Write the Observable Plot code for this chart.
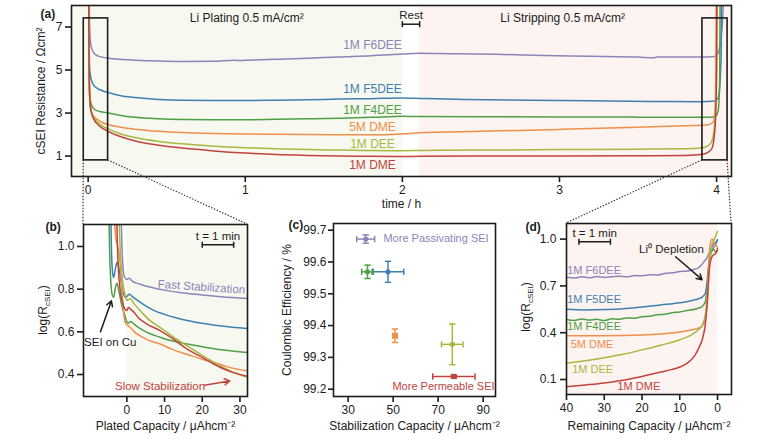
<!DOCTYPE html>
<html>
<head>
<meta charset="utf-8">
<script src="https://cdn.jsdelivr.net/npm/d3@7"></script>
<script src="https://cdn.jsdelivr.net/npm/@observablehq/plot@0.6"></script>
<style>
  body { margin: 0; background: #fff; }
  #fig { position: relative; width: 780px; height: 439px; overflow: hidden; background: #fff; }
</style>
</head>
<body>
<div id="fig"></div>
<script>
// ---------- shared ----------
const seriesNames = ["1M F6DEE", "1M F5DEE", "1M F4DEE", "5M DME", "1M DEE", "1M DME"];
const seriesColors = ["#8d84ba", "#3f80b1", "#4f9f47", "#ef8f4b", "#a8b83f", "#c1433f"];

// ---------- (a) cSEI resistance (Ω cm²) vs time (h) ----------
const f6deeA = [[0.002,12],[0.008,7.4],[0.015,6.3],[0.025,5.95],[0.04,5.76],[0.06,5.66],[0.09,5.6],[0.13,5.55],[0.2,5.5],[0.3,5.46],[0.45,5.42],[0.6,5.4],[0.8,5.41],[0.93,5.46],[0.95,5.44],[1.0,5.45],[1.2,5.5],[1.4,5.55],[1.6,5.61],[1.8,5.66],[2.0,5.74],[2.11,5.78],[2.3,5.76],[2.6,5.73],[2.9,5.68],[3.2,5.64],[3.5,5.6],[3.6,5.57],[3.62,5.6],[3.75,5.6],[3.9,5.6],[3.99,5.63],[4.01,5.8],[4.03,6.6],[4.045,8.5],[4.05,12]];
const f5deeA = [[0.002,12],[0.006,6.5],[0.01,5.0],[0.02,4.55],[0.035,4.3],[0.06,4.14],[0.09,4.04],[0.13,3.95],[0.2,3.82],[0.3,3.72],[0.45,3.63],[0.6,3.59],[0.8,3.58],[1.0,3.58],[1.2,3.6],[1.4,3.62],[1.6,3.65],[1.8,3.67],[2.0,3.7],[2.11,3.68],[2.4,3.63],[2.8,3.6],[3.2,3.57],[3.6,3.54],[3.9,3.53],[3.99,3.56],[4.01,3.7],[4.02,4.2],[4.03,6],[4.035,12]];
const f4deeA = [[0.002,12],[0.006,6],[0.01,4.0],[0.015,3.55],[0.025,3.32],[0.04,3.18],[0.06,3.1],[0.09,3.05],[0.13,3.0],[0.2,2.9],[0.3,2.8],[0.45,2.73],[0.6,2.7],[0.8,2.69],[1.0,2.69],[1.2,2.71],[1.4,2.73],[1.6,2.76],[1.8,2.8],[2.0,2.85],[2.11,2.84],[2.5,2.83],[3.0,2.82],[3.5,2.81],[3.9,2.8],[3.99,2.82],[4.01,3.1],[4.02,4.5],[4.025,12]];
const dme5A = [[0.002,12],[0.005,6],[0.008,4.0],[0.012,3.4],[0.02,3.05],[0.035,2.85],[0.06,2.7],[0.09,2.56],[0.13,2.46],[0.2,2.35],[0.3,2.25],[0.45,2.15],[0.6,2.09],[0.8,2.05],[1.0,2.03],[1.2,2.01],[1.4,2.0],[1.6,1.99],[1.8,1.99],[2.0,2.03],[2.11,2.08],[2.5,2.15],[3.0,2.24],[3.5,2.34],[3.8,2.41],[3.95,2.46],[3.98,2.6],[3.99,3.2],[3.995,5],[4.0,12]];
const deeA = [[0.002,12],[0.005,6],[0.008,4.2],[0.012,3.5],[0.02,3.1],[0.035,2.8],[0.06,2.58],[0.09,2.4],[0.13,2.25],[0.2,2.05],[0.3,1.86],[0.45,1.68],[0.6,1.57],[0.8,1.46],[1.0,1.39],[1.2,1.34],[1.4,1.3],[1.6,1.28],[1.8,1.26],[2.0,1.25],[2.11,1.26],[2.5,1.28],[3.0,1.3],[3.5,1.32],[3.8,1.34],[3.9,1.37],[3.95,1.5],[3.97,1.7],[3.985,2.3],[3.995,3.5],[4.0,5],[4.005,12]];
const dme1A = [[0.002,12],[0.005,6],[0.008,4.2],[0.012,3.5],[0.02,3.05],[0.035,2.72],[0.06,2.48],[0.09,2.3],[0.13,2.14],[0.2,1.92],[0.3,1.7],[0.45,1.5],[0.6,1.37],[0.8,1.24],[1.0,1.14],[1.2,1.07],[1.4,1.03],[1.6,1.0],[1.8,0.99],[2.0,0.98],[2.11,0.99],[2.5,1.0],[3.0,1.0],[3.5,1.01],[3.8,1.03],[3.9,1.07],[3.95,1.2],[3.97,1.35],[3.985,1.9],[3.995,3],[4.0,5],[4.005,12]];
const curvesA = [f6deeA, f5deeA, f4deeA, dme5A, deeA, dme1A];
const ticksTimeA = [0, 1, 2, 3, 4];
const ticksResA = [1, 3, 5, 7];
const platingSpan = [-0.106, 2.0];
const restSpan = [2.0, 2.11];
const strippingSpan = [2.11, 4.095];
const zoomPlating = [-0.028, 0.127];
const zoomStripping = [3.91, 4.07];
const zoomRes = [0.8, 7.4];
const labelResA = [6.15, 4.13, 3.15, 2.33, 1.56, 0.58];

// ---------- (b) log(R) vs plated capacity (µAh cm⁻²) ----------
const f6deeB = [[-1.6,1.2],[-1.3,1.0],[-1.0,0.9],[-0.6,0.856],[0,0.846],[0.6,0.851],[1.5,0.836],[3,0.826],[5,0.815],[8,0.802],[11,0.792],[15,0.782],[20,0.773],[25,0.765],[32,0.756]];
const f5deeB = [[-4.3,1.2],[-4.1,1.0],[-3.8,0.88],[-3.5,0.855],[-3.0,0.9],[-2.5,0.928],[-2.0,0.89],[-1.2,0.8],[-0.4,0.76],[0.2,0.77],[0.7,0.776],[1.5,0.765],[3,0.745],[5,0.722],[7,0.702],[10,0.682],[13,0.666],[16,0.653],[20,0.64],[25,0.627],[32,0.615]];
const f4deeB = [[-4.8,1.2],[-4.6,1.0],[-4.3,0.85],[-3.9,0.775],[-3.5,0.762],[-3.0,0.81],[-2.6,0.828],[-2.1,0.79],[-1.3,0.72],[-0.5,0.675],[0,0.646],[0.5,0.641],[1.0,0.648],[2,0.635],[4,0.61],[6,0.592],[8.8,0.575],[12,0.558],[16,0.543],[20,0.53],[25,0.516],[32,0.503]];
const dme5B = [[-3.5,1.2],[-3.0,1.05],[-2.0,0.96],[-1.5,0.85],[-1.0,0.72],[-0.5,0.646],[0,0.634],[0.9,0.62],[2,0.6],[4,0.576],[6,0.559],[8.8,0.543],[12,0.518],[15.9,0.495],[20,0.471],[24.7,0.448],[28,0.43],[32,0.417]];
const deeB = [[-2.2,1.2],[-1.8,1.0],[-1.2,0.85],[-0.5,0.775],[0,0.748],[0.5,0.752],[0.9,0.755],[2,0.73],[4,0.69],[6,0.655],[8.8,0.621],[12,0.58],[15.9,0.535],[20,0.49],[24.7,0.441],[28,0.412],[32,0.388]];
const dme1B = [[-2.8,1.2],[-2.4,0.95],[-1.8,0.8],[-1.0,0.73],[-0.5,0.706],[0,0.7],[0.4,0.714],[1.0,0.706],[2,0.69],[3,0.667],[5,0.64],[8.8,0.606],[12,0.57],[15.9,0.52],[20,0.48],[24.7,0.434],[28,0.41],[32,0.392]];
const curvesB = [f6deeB, f5deeB, f4deeB, dme5B, deeB, dme1B];
const ticksCapB = [0, 10, 20, 30];
const ticksLogB = [0.4, 0.6, 0.8, 1.0];
const oneMinute = 8.33; // µAh cm⁻² passed in one minute at 0.5 mA cm⁻²

// ---------- (c) Coulombic efficiency vs stabilization capacity ----------
const stabCapacity = [37.8, 47.7, 38.6, 50.8, 76.3, 77.0];
const stabCapacityErr = [4.0, 7.0, 2.6, 1.0, 4.8, 9.4];
const coulombicEff = [99.672, 99.569, 99.569, 99.368, 99.341, 99.240];
const coulombicEffErr = [0.013, 0.033, 0.021, 0.021, 0.064, 0.004];
const markerShape = ["circle", "circle", "circle", "square", "circle", "square"];
const ticksCapC = [30, 50, 70, 90];
const ticksCeC = [99.2, 99.3, 99.4, 99.5, 99.6, 99.7];

// ---------- (d) log(R) vs remaining capacity (µAh cm⁻²) ----------
const f6deeD = [[40,0.755],[38,0.75],[36,0.758],[34,0.752],[32,0.76],[30,0.754],[28,0.758],[26,0.762],[24,0.758],[22,0.766],[20,0.765],[18,0.772],[16,0.77],[14,0.78],[12,0.784],[10,0.792],[8,0.795],[6.5,0.805],[5.3,0.812],[4.2,0.835],[3.5,0.858],[2.8,0.88],[2.0,0.92],[1.2,0.94],[0.5,0.965],[0,0.995]];
const f5deeD = [[40,0.55],[35,0.546],[30,0.548],[25,0.553],[20,0.565],[15,0.578],[10,0.592],[7,0.605],[5,0.618],[4,0.63],[3.2,0.655],[2.8,0.72],[2.4,0.82],[2.0,0.9],[1.3,0.96],[0.6,0.975],[0,0.995]];
const f4deeD = [[40,0.485],[38,0.478],[36,0.488],[34,0.481],[32,0.486],[30,0.478],[28,0.489],[26,0.486],[24,0.495],[22,0.493],[20,0.503],[18,0.505],[16,0.515],[14,0.518],[12,0.528],[10,0.533],[8,0.543],[6,0.55],[5,0.558],[4,0.57],[3.2,0.6],[2.7,0.7],[2.2,0.85],[1.6,0.92],[1.0,0.935],[0.5,0.915],[0,0.925]];
const dme5D = [[40,0.38],[30,0.38],[20,0.385],[15,0.392],[10,0.405],[7,0.418],[5,0.43],[4,0.447],[3.3,0.48],[2.8,0.6],[2.4,0.8],[2.0,0.96],[1.4,1.0],[0.8,0.97],[0,0.95]];
const deeD = [[40,0.205],[35,0.22],[30,0.24],[25,0.262],[20,0.29],[15,0.32],[10,0.355],[7,0.385],[5,0.42],[4,0.45],[3.2,0.52],[2.7,0.62],[2.2,0.8],[1.6,0.95],[1.0,0.99],[0.5,1.02],[0,1.05]];
const dme1D = [[40,0.053],[35,0.065],[30,0.078],[25,0.095],[20,0.12],[15,0.148],[12,0.165],[10,0.18],[8,0.205],[6,0.255],[5,0.3],[4,0.36],[3.2,0.46],[2.7,0.6],[2.2,0.8],[1.6,0.88],[1.0,0.9],[0.4,0.91],[0,0.94]];
const curvesD = [f6deeD, f5deeD, f4deeD, dme5D, deeD, dme1D];
const ticksCapD = [40, 30, 20, 10, 0];
const ticksLogD = [0.1, 0.4, 0.7, 1.0];
const labelCapD = [39.8, 39.8, 39.8, 38.9, 38.5, 26.5];
const labelLogD = [0.80, 0.613, 0.438, 0.327, 0.167, 0.053];

// ---------- styling helpers ----------
const FONT = "'Liberation Sans', Arial, Helvetica, sans-serif";
const INK = "#1c1c1c";
const PLATE_FILL = "#f7f8ef";
const STRIP_FILL = "#fdf3f0";
const style = {fontFamily: FONT, fontSize: "12px", color: INK, background: "transparent", overflow: "visible"};

// short line segments used as error-bar / scale-bar end caps
const capVertical = {draw(ctx, size) { const r = Math.sqrt(size / Math.PI); ctx.moveTo(0, -r); ctx.lineTo(0, r); }};
const capHorizontal = {draw(ctx, size) { const r = Math.sqrt(size / Math.PI); ctx.moveTo(-r, 0); ctx.lineTo(r, 0); }};

const frame = () => Plot.frame({stroke: INK, strokeWidth: 1.6});
const lines = (curves, opts = {}) => curves.map((pts, i) =>
  Plot.line(pts, {x: d => d[0], y: d => d[1], stroke: seriesColors[i], strokeWidth: 1.5, clip: true, curve: "monotone-x", ...opts}));
const panelTag = (tag, dx, dy) => Plot.text([tag], {frameAnchor: "top-left", dx, dy, text: d => d, fontWeight: "bold", fontSize: 12, fill: INK});
const scaleBar = (x1, x2, y, ty, label = "t = 1 min") => [
  Plot.ruleY([y], {x1, x2, stroke: INK, strokeWidth: 1.5}),
  Plot.dot([x1, x2], {x: d => d, y: () => y, symbol: capVertical, r: 3, fill: "none", stroke: INK, strokeWidth: 1.5}),
  Plot.text([label], {x: (x1 + x2) / 2, y: ty, text: d => d, fontSize: 11.5, fill: INK})
];

const fig = document.getElementById("fig");
function place(svg, left, top) {
  svg.style.position = "absolute";
  svg.style.left = left + "px";
  svg.style.top = top + "px";
  fig.appendChild(svg);
  return svg;
}
function logLabel(svg, cx, cy) {
  const t = d3.select(svg).append("text")
    .attr("transform", `translate(${cx},${cy}) rotate(-90)`)
    .attr("text-anchor", "middle")
    .attr("fill", INK)
    .style("font", `12px ${FONT}`);
  t.append("tspan").text("log(R");
  t.append("tspan").attr("dy", 3).attr("font-size", 8).text("cSEI");
  t.append("tspan").attr("dy", -3).text(")");
}

// ---------- panel (a) ----------
const plotA = Plot.plot({
  width: 780, height: 215,
  marginLeft: 71, marginRight: 49, marginTop: 5, marginBottom: 39,
  style,
  x: {domain: [platingSpan[0], strippingSpan[1]]},
  y: {domain: [0.05, 8.0]},
  marks: [
    Plot.rect([platingSpan], {x1: d => d[0], x2: d => d[1], fill: PLATE_FILL}),
    Plot.rect([strippingSpan], {x1: d => d[0], x2: d => d[1], fill: STRIP_FILL}),
    ...lines(curvesA),
    Plot.rect([zoomPlating, zoomStripping], {x1: d => d[0], x2: d => d[1], y1: zoomRes[0], y2: zoomRes[1], fill: "none", stroke: INK, strokeWidth: 1.6}),
    ...seriesNames.map((name, i) => Plot.text([name], {x: 1.81, y: labelResA[i], text: d => d, fill: seriesColors[i], fontSize: 12})),
    Plot.text(["Li Plating 0.5 mA/cm²"], {x: 1.01, y: 7.40, text: d => d, fontSize: 12, fill: INK}),
    Plot.text(["Li Stripping 0.5 mA/cm²"], {x: 3.02, y: 7.40, text: d => d, fontSize: 12, fill: INK}),
    ...scaleBar(restSpan[0], restSpan[1], 7.13, 7.55, "Rest"),
    Plot.axisX({ticks: ticksTimeA, tickFormat: d3.format("d"), tickSize: 6, tickPadding: 3, strokeWidth: 1.6, label: "time / h", labelAnchor: "center", labelOffset: 31, labelArrow: "none", fontSize: 12}),
    Plot.axisY({ticks: ticksResA, tickFormat: d3.format("d"), tickSize: 6, tickPadding: 3, strokeWidth: 1.6, label: "cSEI Resistance / Ωcm²", labelAnchor: "center", labelOffset: 35, labelArrow: "none", fontSize: 12}),
    frame(),
    panelTag("(a)", -31, 4)
  ]
});
place(plotA, 0, 0);

// ---------- panel (b) ----------
const plotB = Plot.plot({
  width: 260, height: 224,
  marginLeft: 83, marginRight: 13, marginTop: 9, marginBottom: 43,
  style,
  x: {domain: [-11.5, 32]},
  y: {domain: [0.297, 1.103]},
  marks: [
    Plot.rect([[0, 32]], {x1: d => d[0], x2: d => d[1], fill: PLATE_FILL}),
    ...lines(curvesB),
    Plot.text(["Fast Stabilization"], {x: 19.8, y: 0.81, text: d => d, fill: seriesColors[0], fontSize: 11.5, rotate: 4}),
    Plot.text(["Slow Stabilization"], {x: 8.8, y: 0.347, text: d => d, fill: seriesColors[5], fontSize: 11.5}),
    Plot.arrow([0], {x1: 20.5, y1: 0.35, x2: 27.3, y2: 0.37, stroke: seriesColors[5], strokeWidth: 1.5, headLength: 6}),
    Plot.text(["SEI on Cu"], {x: -4.4, y: 0.55, text: d => d, fill: INK, fontSize: 11.5}),
    Plot.arrow([0], {x1: -7.0, y1: 0.6, x2: -4.1, y2: 0.745, stroke: INK, strokeWidth: 1.5, headLength: 6}),
    ...scaleBar(20.0, 20.0 + oneMinute, 1.008, 1.047),
    Plot.axisX({ticks: ticksCapB, tickFormat: d3.format("d"), tickSize: 6, tickPadding: 3, strokeWidth: 1.6, label: "Plated Capacity / μAhcm⁻²", labelAnchor: "center", labelOffset: 33, labelArrow: "none", fontSize: 12}),
    Plot.axisY({ticks: ticksLogB, tickFormat: d3.format(".1f"), tickSize: 6, tickPadding: 3, strokeWidth: 1.6, label: null, fontSize: 12}),
    frame(),
    panelTag("(b)", -38, -2)
  ]
});
place(plotB, 0, 215);
logLabel(plotB, 47, 95);

// ---------- panel (c) ----------
const ceRows = seriesNames.map((name, i) => ({
  name, color: seriesColors[i], cap: stabCapacity[i], capErr: stabCapacityErr[i],
  ce: coulombicEff[i], ceErr: coulombicEffErr[i], shape: markerShape[i]
}));
const plotC = Plot.plot({
  width: 250, height: 224,
  marginLeft: 73, marginRight: 15, marginTop: 8, marginBottom: 43,
  style,
  x: {domain: [23.5, 95.5]},
  y: {domain: [99.177, 99.721]},
  marks: [
    ...ceRows.flatMap(r => [
      Plot.ruleY([r], {y: "ce", x1: d => d.cap - d.capErr, x2: d => d.cap + d.capErr, stroke: r.color, strokeWidth: 1.5}),
      Plot.ruleX([r], {x: "cap", y1: d => d.ce - d.ceErr, y2: d => d.ce + d.ceErr, stroke: r.color, strokeWidth: 1.5}),
      Plot.dot([r.cap - r.capErr, r.cap + r.capErr], {x: d => d, y: () => r.ce, symbol: capVertical, r: 3.2, fill: "none", stroke: r.color, strokeWidth: 1.5}),
      Plot.dot([r.ce - r.ceErr, r.ce + r.ceErr], {x: () => r.cap, y: d => d, symbol: capHorizontal, r: 3.2, fill: "none", stroke: r.color, strokeWidth: 1.5}),
      Plot.dot([r], {x: "cap", y: "ce", symbol: r.shape, r: r.shape === "square" ? 3 : 2.6, fill: r.color, stroke: "none"})
    ]),
    Plot.text(["More Passivating SEI"], {x: 45.7, y: 99.673, text: d => d, textAnchor: "start", fill: seriesColors[0], fontSize: 11}),
    Plot.text(["More Permeable SEI"], {x: 49.7, y: 99.207, text: d => d, textAnchor: "start", fill: seriesColors[5], fontSize: 11}),
    Plot.axisX({ticks: ticksCapC, tickFormat: d3.format("d"), tickSize: 6, tickPadding: 3, strokeWidth: 1.6, label: "Stabilization Capacity / μAhcm⁻²", labelAnchor: "center", labelOffset: 33, labelArrow: "none", fontSize: 12}),
    Plot.axisY({ticks: ticksCeC, tickFormat: d3.format(".1f"), tickSize: 5, tickPadding: 2, strokeWidth: 1.6, label: "Coulombic Efficiency / %", labelAnchor: "center", labelOffset: 51, labelArrow: "none", fontSize: 12}),
    frame(),
    panelTag("(c)", -45, -3)
  ]
});
place(plotC, 260, 215);

// ---------- panel (d) ----------
const plotD = Plot.plot({
  width: 270, height: 224,
  marginLeft: 56, marginRight: 49, marginTop: 8, marginBottom: 45,
  style,
  x: {domain: [40, -3.7]},
  y: {domain: [0.004, 1.1]},
  marks: [
    Plot.rect([[40, 0]], {x1: d => d[0], x2: d => d[1], fill: STRIP_FILL}),
    ...lines(curvesD.map(c => c.slice().reverse())),
    ...seriesNames.map((name, i) => Plot.text([name], {x: labelCapD[i], y: labelLogD[i], text: d => d, textAnchor: "start", fill: seriesColors[i], fontSize: 11})),
    Plot.text(["Li⁰ Depletion"], {x: 12.2, y: 0.936, text: d => d, fill: INK, fontSize: 11.5}),
    Plot.arrow([0], {x1: 11.1, y1: 0.887, x2: 4.1, y2: 0.74, stroke: INK, strokeWidth: 1.5, headLength: 6}),
    ...scaleBar(36.7, 36.7 - oneMinute, 0.983, 1.035),
    Plot.axisX({ticks: ticksCapD, tickFormat: d3.format("d"), tickSize: 6, tickPadding: 3, strokeWidth: 1.6, label: "Remaining Capacity / μAhcm⁻²", labelAnchor: "center", labelOffset: 35, labelArrow: "none", fontSize: 12}),
    Plot.axisY({ticks: ticksLogD, tickFormat: d3.format(".1f"), tickSize: 6, tickPadding: 4, strokeWidth: 1.6, label: null, fontSize: 12}),
    frame(),
    panelTag("(d)", -41, -1)
  ]
});
place(plotD, 510, 215);
logLabel(plotD, 19.5, 92);

// ---------- dotted connectors from the zoom windows in (a) to panels (b) and (d) ----------
const offsets = {a: [0, 0], b: [0, 215], d: [510, 215]};
const ax = plotA.scale("x"), ay = plotA.scale("y");
const bx = plotB.scale("x"), by = plotB.scale("y");
const dx = plotD.scale("x"), dy = plotD.scale("y");
const boxBottom = ay.apply(zoomRes[0]) + offsets.a[1];
const bTop = Math.min(...by.range) + offsets.b[1];
const dTop = Math.min(...dy.range) + offsets.d[1];
const connectors = [
  [ax.apply(zoomPlating[0]), boxBottom, Math.min(...bx.range) + offsets.b[0], bTop],
  [ax.apply(zoomPlating[1]), boxBottom, Math.max(...bx.range) + offsets.b[0], bTop],
  [ax.apply(zoomStripping[0]), boxBottom, Math.min(...dx.range) + offsets.d[0], dTop],
  [ax.apply(zoomStripping[1]), boxBottom, Math.max(...dx.range) + offsets.d[0], dTop]
];
const overlay = d3.create("svg")
  .attr("width", 780).attr("height", 439)
  .style("position", "absolute").style("left", "0px").style("top", "0px")
  .style("pointer-events", "none");
overlay.selectAll("line").data(connectors).join("line")
  .attr("x1", d => d[0]).attr("y1", d => d[1])
  .attr("x2", d => d[2]).attr("y2", d => d[3])
  .attr("stroke", "#333").attr("stroke-width", 1.2)
  .attr("stroke-dasharray", "1.4 1.6");
fig.appendChild(overlay.node());
</script>
</body>
</html>
